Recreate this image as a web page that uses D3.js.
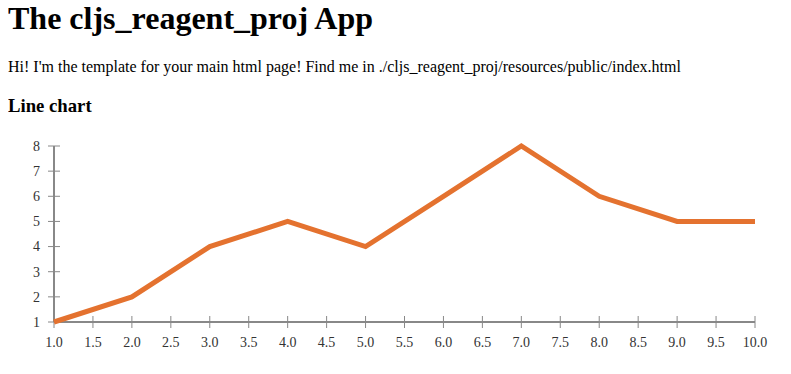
<!DOCTYPE html>
<html lang="en">
<head>
    <meta charset="UTF-8">
    <title>cljs_reagent_proj</title>
    <script src="https://d3js.org/d3.v7.min.js"></script>
    <style>
        body { margin: 0 8px; font-family: "Liberation Serif", "Times New Roman", serif; color: #000; }
        h1 { margin-top: 0; }
        svg text { font-family: "Liberation Serif", "Times New Roman", serif; font-size: 14px; fill: #333; }
    </style>
</head>
<body>
<h1>The cljs_reagent_proj App</h1>
<p>Hi! I'm the template for your main html page! Find me in ./cljs_reagent_proj/resources/public/index.html</p>
<h3>Line chart</h3>
<div id="line-chart"></div>

<script>
    const xValues = [1, 2, 3, 4, 5, 6, 7, 8, 9, 10];
    const yValues = [1, 2, 4, 5, 4, 6, 8, 6, 5, 5];
    const xTicks = d3.range(1, 10.01, 0.5);
    const yTicks = [1, 2, 3, 4, 5, 6, 7, 8];

    const width = 775, height = 230;
    const margin = {top: 10, left: 46, right: 28, bottom: 44};

    const svg = d3.select("#line-chart")
        .append("svg")
        .attr("width", width)
        .attr("height", height)
        .style("display", "block");

    const x = d3.scaleLinear().domain([1, 10]).range([margin.left, width - margin.right]);
    const y = d3.scaleLinear().domain([1, 8]).range([height - margin.bottom, margin.top]);

    const axisColor = "#888";

    // x axis - ticks cross the line
    const xAxis = svg.append("g").attr("class", "x-axis");
    xAxis.append("line")
        .attr("x1", x(1)).attr("x2", x(10))
        .attr("y1", y(1)).attr("y2", y(1))
        .attr("stroke", axisColor).attr("stroke-width", 2);
    const xt = xAxis.selectAll(".tick").data(xTicks).enter().append("g")
        .attr("transform", d => `translate(${x(d)},${y(1)})`);
    xt.append("line").attr("y1", -6).attr("y2", 6).attr("stroke", axisColor);
    xt.append("text")
        .attr("y", 25)
        .attr("text-anchor", "middle")
        .text(d => d3.format(".1f")(d));

    // y axis
    const yAxis = svg.append("g").attr("class", "y-axis");
    yAxis.append("line")
        .attr("x1", x(1)).attr("x2", x(1))
        .attr("y1", y(1)).attr("y2", y(8))
        .attr("stroke", axisColor).attr("stroke-width", 2);
    const yt = yAxis.selectAll(".tick").data(yTicks).enter().append("g")
        .attr("transform", d => `translate(${x(1)},${y(d)})`);
    yt.append("line").attr("x1", -6).attr("x2", 6).attr("stroke", axisColor);
    yt.append("text")
        .attr("x", -14)
        .attr("dy", "0.35em")
        .attr("text-anchor", "end")
        .text(d => d);

    const line = d3.line()
        .x((d, i) => x(xValues[i]))
        .y(d => y(d));

    svg.append("path")
        .datum(yValues)
        .attr("d", line)
        .attr("fill", "none")
        .attr("stroke", "#e4722f")
        .attr("stroke-width", 5)
        .attr("stroke-linejoin", "miter");
</script>
</body>
</html>
